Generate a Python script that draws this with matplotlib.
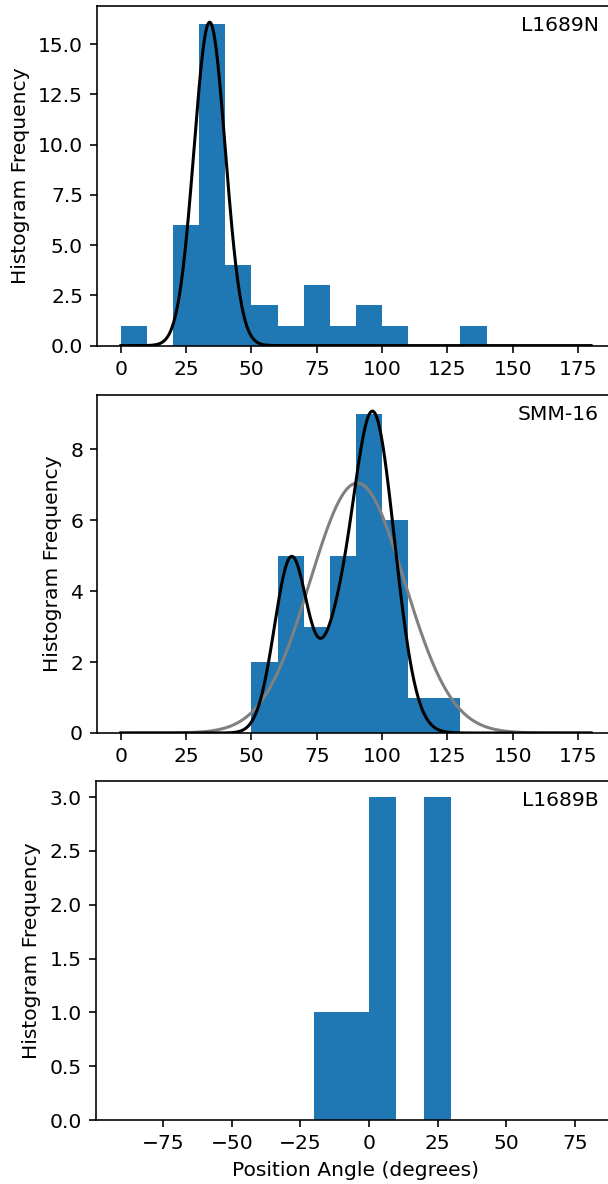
import numpy as np
import matplotlib
matplotlib.use("Agg")
import matplotlib.pyplot as plt

# bin edges (degrees) and counts per 10-degree bin
EDGES_A = np.arange(0, 181, 10)
COUNTS_N = [1, 0, 6, 16, 4, 2, 1, 3, 1, 2, 1, 0, 0, 1, 0, 0, 0, 0]          # L1689N
COUNTS_S = [0, 0, 0, 0, 0, 2, 5, 3, 5, 9, 6, 1, 1, 0, 0, 0, 0, 0]          # SMM-16
EDGES_B = np.arange(-90, 81, 10)
COUNTS_B = [0, 0, 0, 0, 0, 0, 0, 1, 1, 3, 0, 3, 0, 0, 0, 0, 0]             # L1689B

# gaussian fit components (mean, sigma, amplitude)
FIT_N = [(34.0, 6.0, 16.1)]
FIT_S_MULTI = [(65.3, 6.5, 4.95), (81.0, 5.5, 1.45), (96.4, 8.3, 9.05)]
FIT_S_SINGLE = [(90.5, 18.1, 7.05)]

NAMES = ["L1689N", "SMM-16", "L1689B"]


def model(x, comps):
    y = np.zeros_like(x)
    for mu, sig, amp in comps:
        y += amp * np.exp(-(x - mu) ** 2 / (2 * sig ** 2))
    return y


DPI = 146
W, H = 608.0, 1184.0
fig = plt.figure(figsize=(W / DPI, H / DPI), dpi=DPI)
# pixel boxes (left, right, top, bottom); the panels run past the right edge
boxes = [(97.3, 614.6, 6, 345.6), (97.3, 614.6, 395, 733), (96, 614.6, 781, 1120)]
axes = [fig.add_axes([l / W, 1 - b / H, (r - l) / W, (b - t) / H]) for l, r, t, b in boxes]

xs = np.linspace(0, 180, 500)

ax = axes[0]
ax.hist(EDGES_A[:-1], bins=EDGES_A, weights=COUNTS_N, color="#1f77b4")
ax.plot(xs, model(xs, FIT_N), color="black", lw=1.5)

ax = axes[1]
ax.hist(EDGES_A[:-1], bins=EDGES_A, weights=COUNTS_S, color="#1f77b4")
ax.plot(xs, model(xs, FIT_S_SINGLE), color="gray", lw=1.5)
ax.plot(xs, model(xs, FIT_S_MULTI), color="black", lw=1.5)

ax = axes[2]
ax.hist(EDGES_B[:-1], bins=EDGES_B, weights=COUNTS_B, color="#1f77b4")
ax.set_xlim(-99.5, 89.5)
ax.set_xlabel("Position Angle (degrees)")

for ax, name, (l, r, t, b) in zip(axes, NAMES, boxes):
    ax.set_ylabel("Histogram Frequency")
    fig.text(599 / W, 1 - (t + 19.5) / H, name, ha="right", va="center")

fig.savefig("out.png", dpi=DPI)
